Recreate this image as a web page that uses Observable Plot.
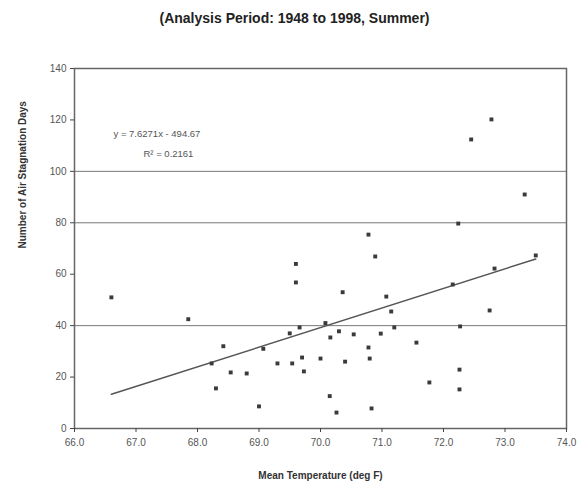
<!DOCTYPE html>
<html>
<head>
<meta charset="utf-8">
<script src="https://cdn.jsdelivr.net/npm/d3@7"></script>
<script src="https://cdn.jsdelivr.net/npm/@observablehq/plot@0.6"></script>
<style>
  body { margin: 0; background: #fff; font-family: "Liberation Sans", Arial, sans-serif; }
  #title { height: 36px; line-height: 36px; text-align: center; font-weight: bold; font-size: 14px; color: #222; padding-left: 2px; }
  #chart svg { display: block; }
</style>
</head>
<body>
<div id="title">(Analysis Period: 1948 to 1998, Summer)</div>
<div id="chart"></div>
<script>
const temps = [66.6, 67.85, 68.42, 68.23, 68.3, 68.54, 68.8, 69.0, 69.07, 69.3, 69.54, 69.5, 69.66, 69.6, 69.6, 69.7, 69.73, 70.0, 70.08, 70.16, 70.3, 70.15, 70.26, 72.78, 72.45, 73.32, 72.24, 70.78, 70.89, 73.5, 72.83, 72.15, 70.36, 71.07, 71.15, 72.75, 70.54, 70.98, 71.2, 72.27, 71.56, 70.78, 70.4, 70.8, 72.26, 71.77, 72.26, 70.83];
const days  = [51, 42.5, 32, 25.3, 15.6, 21.8, 21.4, 8.6, 31, 25.3, 25.3, 37, 39.3, 56.8, 64, 27.6, 22.2, 27.2, 41, 35.4, 37.8, 12.6, 6.2, 120.2, 112.4, 91, 79.7, 75.4, 66.9, 67.3, 62.2, 56, 53, 51.3, 45.5, 45.9, 36.6, 36.9, 39.3, 39.7, 33.4, 31.5, 26, 27.2, 22.9, 17.9, 15.2, 7.8];
const xTicks = [66, 67, 68, 69, 70, 71, 72, 73, 74];
const yTicks = [0, 20, 40, 60, 80, 100, 120, 140];
const gridLines = [40, 80, 100];
const trendSlope = 7.6271;
const trendIntercept = -494.67;
const equationLabel = "y = 7.6271x - 494.67";
const r2Label = "R² = 0.2161";

const points = temps.map((t, i) => ({t, d: days[i]}));
const tMin = d3.min(temps), tMax = d3.max(temps);
const trend = [tMin, tMax].map(t => ({t, d: trendSlope * t + trendIntercept}));

const chart = Plot.plot({
  width: 587,
  height: 451,
  marginTop: 32,
  marginBottom: 59,
  marginLeft: 74,
  marginRight: 21,
  style: {fontFamily: "'Liberation Sans', Arial, sans-serif", fontSize: "10px", color: "#444"},
  x: {domain: [66, 74], ticks: xTicks, tickFormat: d3.format(".1f"), label: null, tickSize: 4},
  y: {domain: [0, 140], ticks: yTicks, label: null, tickSize: 4},
  marks: [
    Plot.ruleY(gridLines, {stroke: "#777", strokeWidth: 1}),
    Plot.frame({stroke: "#666", strokeWidth: 1.5}),
    Plot.axisX({ticks: xTicks, tickFormat: d3.format(".1f"), tickSize: 4, tickPadding: 6, fontSize: 10, fill: "#555"}),
    Plot.axisY({ticks: yTicks, tickSize: 4, tickPadding: 4, fontSize: 10, fill: "#555"}),
    Plot.line(trend, {x: "t", y: "d", stroke: "#555", strokeWidth: 1.5}),
    Plot.dot(points, {x: "t", y: "d", symbol: "square", r: 2.2, fill: "#3a3a3a", stroke: "none"}),
    Plot.text([equationLabel], {frameAnchor: "top-left", dx: 39, dy: 62, textAnchor: "start", fontSize: 9.5, fill: "#555"}),
    Plot.text([r2Label], {frameAnchor: "top-left", dx: 69, dy: 82, textAnchor: "start", fontSize: 9.5, fill: "#555"}),
    Plot.text(["Mean Temperature (deg F)"], {frameAnchor: "bottom", dy: 50, fontSize: 10, fontWeight: "bold", fill: "#333"}),
    Plot.text(["Number of Air Stagnation Days"], {frameAnchor: "left", dx: -52, rotate: -90, fontSize: 10, fontWeight: "bold", fill: "#333"})
  ]
});
document.getElementById("chart").appendChild(chart);
</script>
</body>
</html>
